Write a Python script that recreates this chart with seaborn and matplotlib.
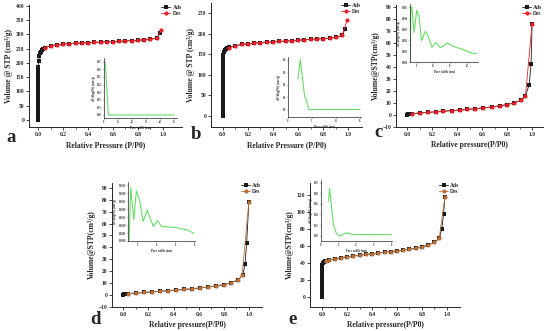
import matplotlib
matplotlib.use("Agg")
import matplotlib.pyplot as plt
import seaborn as sns

# ---------------- data ----------------
# panel a (isotherm)
A_STACK_V = [0, 8, 16, 24, 32, 40, 48, 56, 64, 72, 80, 88, 96, 104, 112, 120, 128, 136, 144, 152, 160, 168, 176, 185]
A_ADS_P = [0.0] * len(A_STACK_V) + [0.003, 0.008, 0.015, 0.022, 0.03, 0.04, 0.05,
           0.1, 0.15, 0.2, 0.25, 0.3, 0.35, 0.4, 0.45, 0.5, 0.55, 0.6, 0.65, 0.7, 0.75, 0.8, 0.85, 0.9, 0.95, 0.98]
A_ADS_V = A_STACK_V + [205, 226, 234, 240, 245, 249, 252,
           260, 264, 266, 268, 269, 270, 271, 272, 273, 274, 275, 276, 277, 278, 279, 281, 283, 286, 305]
A_DES_P = [0.05, 0.1, 0.15, 0.2, 0.25, 0.3, 0.35, 0.4, 0.45, 0.5, 0.55, 0.6, 0.65, 0.7, 0.75, 0.8, 0.85, 0.9, 0.95, 0.99]
A_DES_V = [254, 260, 264, 266, 268, 269, 270, 271, 272, 273, 274, 275, 276, 277, 278, 280, 282, 284, 286, 316]

# panel b
B_STACK_V = [0, 6, 12, 18, 24, 30, 36, 42, 48, 54, 60, 66, 72, 78, 84, 90, 96, 102, 108, 114, 120, 126, 132, 138]
B_ADS_P = [0.0] * len(B_STACK_V) + [0.003, 0.008, 0.015, 0.025, 0.035, 0.05,
           0.1, 0.15, 0.2, 0.25, 0.3, 0.35, 0.4, 0.45, 0.5, 0.55, 0.6, 0.65, 0.7, 0.75, 0.8, 0.85, 0.9, 0.95, 0.975]
B_ADS_V = B_STACK_V + [148, 155, 160, 163, 165, 167,
           171, 174, 176, 177.5, 178.5, 179.5, 180.5, 181.5, 182.5, 183.5, 184.5, 185.5, 186.5, 187.5, 188.5, 189.5, 191.5, 196, 212]
B_DES_P = [0.05, 0.1, 0.15, 0.2, 0.25, 0.3, 0.35, 0.4, 0.45, 0.5, 0.55, 0.6, 0.65, 0.7, 0.75, 0.8, 0.85, 0.9, 0.95, 0.99]
B_DES_V = [166, 171, 174, 176, 177.5, 178.5, 179.5, 180.5, 181.5, 182.5, 183.5, 184.5, 185.5, 186.5, 187.5, 188.5, 189.5, 191.5, 196, 234]

# panel c
C_ADS_P = [0.0, 0.005, 0.01, 0.02, 0.04, 0.1, 0.165, 0.23, 0.29, 0.355, 0.42, 0.48, 0.545, 0.61, 0.675, 0.74, 0.8, 0.855, 0.91, 0.945, 0.975, 0.99, 0.998]
C_ADS_V = [0.3, 0.6, 0.8, 1.0, 1.2, 1.7, 2.2, 2.7, 3.2, 3.7, 4.2, 4.7, 5.3, 6.0, 6.8, 7.7, 8.8, 10.2, 12.3, 15.8, 25.5, 43, 76.5]
C_DES_P = [0.04, 0.1, 0.165, 0.23, 0.29, 0.355, 0.42, 0.48, 0.545, 0.61, 0.675, 0.74, 0.8, 0.855, 0.91, 0.945, 0.998]
C_DES_V = [1.2, 1.7, 2.2, 2.7, 3.2, 3.7, 4.2, 4.7, 5.3, 6.0, 6.8, 7.7, 8.8, 10.2, 12.3, 15.8, 76.5]

# panel d
D_ADS_P = [0.0, 0.005, 0.01, 0.02, 0.04, 0.1, 0.165, 0.23, 0.29, 0.355, 0.42, 0.48, 0.545, 0.61, 0.675, 0.74, 0.8, 0.855, 0.915, 0.95, 0.968, 0.981, 0.998]
D_ADS_V = [0.3, 0.6, 0.8, 1.0, 1.2, 1.7, 2.2, 2.7, 3.2, 3.7, 4.2, 4.7, 5.3, 6.0, 6.8, 7.7, 8.8, 10.2, 13.0, 16.5, 26, 43.5, 78]
D_DES_P = [0.04, 0.1, 0.165, 0.23, 0.29, 0.355, 0.42, 0.48, 0.545, 0.61, 0.675, 0.74, 0.8, 0.855, 0.915, 0.945, 0.998]
D_DES_V = [1.2, 1.7, 2.2, 2.7, 3.2, 3.7, 4.2, 4.7, 5.3, 6.0, 6.8, 7.7, 8.8, 10.2, 13.0, 16.5, 78]

# panel e
E_STACK_V = [0, 2, 4, 6, 8, 10, 12, 14, 16, 18, 20, 22, 24, 26, 28, 30, 32, 34, 36, 38]
E_ADS_P = [0.0] * len(E_STACK_V) + [0.003, 0.01, 0.02, 0.035, 0.05, 0.1, 0.15, 0.2, 0.25, 0.3, 0.35, 0.4, 0.45,
           0.5, 0.55, 0.6, 0.65, 0.7, 0.75, 0.8, 0.85, 0.9, 0.94, 0.96, 0.975, 0.985]
E_ADS_V = E_STACK_V + [40, 41.5, 42.5, 43, 43.5, 45, 46.5, 47.5, 48.5, 49.5, 50.3, 51, 52,
           52.8, 53.6, 54.4, 55.3, 56.3, 57.5, 59, 61.3, 64.3, 69, 80, 97.5, 117]
E_DES_P = [0.03, 0.05, 0.1, 0.15, 0.2, 0.25, 0.3, 0.35, 0.4, 0.45, 0.5, 0.55, 0.6, 0.65, 0.7, 0.75, 0.8, 0.85, 0.9, 0.94, 0.985]
E_DES_V = [43, 43.5, 45, 46.5, 47.5, 48.5, 49.5, 50.3, 51, 52, 52.8, 53.6, 54.4, 55.3, 56.3, 57.5, 59, 61.3, 64.3, 69, 117]

# insets (pore size distribution)
IA_W = [0.7, 1.0, 3.1, 50.0]
IA_D = [0.07, 0.065, 0.0, 0.0]
IB_W = [2.07, 2.56, 3.46, 3.8, 4.35, 15.0]
IB_D = [0.246, 0.4, 0.106, 0.078, 0.0, 0.0]
IC_W = [3.08, 3.27, 3.56, 4.23, 5.0, 5.67, 6.44, 7.6, 8.37, 9.52, 10.77, 12.0, 14.13, 16.06, 18.94, 21.35, 22.8]
IC_D = [0.0, 0.005, 0.005, 0.0027, 0.0047, 0.00424, 0.00197, 0.0028, 0.0024, 0.00136, 0.0018, 0.0013, 0.00173, 0.00142, 0.00112, 0.00082, 0.00076]
ID_W = [1.11, 1.29, 1.61, 1.89, 2.25, 2.61, 3.04, 3.68, 4.11, 4.57, 6.0, 7.25, 7.96]
ID_D = [0.0, 0.00335, 0.00134, 0.00314, 0.0025, 0.00123, 0.00193, 0.00091, 0.00127, 0.00091, 0.00085, 0.0007, 0.00049]
IE_W = [0.87, 0.98, 1.25, 1.43, 1.55, 1.74, 2.0, 2.26, 2.57, 2.94, 3.7, 5.2, 8.0]
IE_D = [0.065, 0.089, 0.048, 0.0185, 0.015, 0.0053, 0.0, 0.0, 0.0033, 0.0053, 0.002, 0.002, 0.002]

# ---------------- style ----------------
sns.set_style("ticks")
plt.rcParams['font.family'] = ['Liberation Serif', 'DejaVu Serif']
plt.rcParams['font.weight'] = 'bold'
plt.rcParams['axes.labelweight'] = 'bold'

W, H = 550, 331
fig = plt.figure(figsize=(5.5, 3.31), dpi=100)
fig.patch.set_facecolor('white')

ADS_C = '#1a1a1a'
RED_C = '#e8202a'
BROWN_C = '#b8703a'
GREEN_C = '#66dd66'


def rect(l, t, r, b):
    return [l / W, 1 - b / H, (r - l) / W, (b - t) / H]


def main_panel(box, ap, av, dp, dv, dcol, xlim, ylim, yticks, xlabel, ylabel, letter, lpos):
    ax = fig.add_axes(rect(*box))
    sns.lineplot(x=ap, y=av, ax=ax, color=ADS_C, marker='s', markersize=2.8, linewidth=0.6,
                 markeredgewidth=0, estimator=None, sort=False, label='Ads')
    sns.lineplot(x=dp, y=dv, ax=ax, color=dcol, marker='o', markersize=3.0, linewidth=0.6,
                 markeredgewidth=0, estimator=None, sort=False, label='Des')
    ax.set_xlim(*xlim)
    ax.set_ylim(*ylim)
    ax.set_xticks([0.0, 0.2, 0.4, 0.6, 0.8, 1.0])
    ax.set_xticks([0.1, 0.3, 0.5, 0.7, 0.9], minor=True)
    ax.set_xticklabels(['0.0', '0.2', '0.4', '0.6', '0.8', '1.0'])
    ax.set_yticks(yticks)
    ax.tick_params(labelsize=4, length=2, width=0.6, pad=1.5)
    ax.tick_params(which='minor', length=1.2, width=0.5)
    for s in ['top', 'right']:
        ax.spines[s].set_visible(False)
    for s in ['left', 'bottom']:
        ax.spines[s].set_linewidth(0.7)
    ax.set_xlabel(xlabel, fontsize=5.5, labelpad=3)
    ax.set_ylabel(ylabel, fontsize=5.5, labelpad=2)
    ax.legend(loc='upper right', bbox_to_anchor=(1.02, 1.03), fontsize=4, frameon=False,
              handlelength=1.6, handletextpad=0.4, labelspacing=0.3, borderaxespad=0.2)
    fig.text(lpos[0] / W, 1 - lpos[1] / H, letter, fontsize=13.5, fontweight='bold',
             ha='left', va='baseline')
    return ax


def inset(box, w, d, xlim, ylim, xticks, yticks):
    ax = fig.add_axes(rect(*box))
    sns.lineplot(x=w, y=d, ax=ax, color=GREEN_C, linewidth=0.8, estimator=None, sort=False)
    ax.set_xlim(*xlim)
    ax.set_ylim(*ylim)
    ax.set_xticks(xticks)
    ax.set_yticks(yticks)
    ax.set_facecolor('none')
    ax.tick_params(labelsize=1.8, length=1, width=0.4, pad=0.5)
    for s in ['top', 'right']:
        ax.spines[s].set_visible(False)
    for s in ['left', 'bottom']:
        ax.spines[s].set_linewidth(0.5)
    ax.set_xlabel('Pore width (nm)', fontsize=2.2, labelpad=0.8)
    ax.set_ylabel('dV/dlog(W) (cm³/g)', fontsize=2.2, labelpad=0.8)
    return ax


lab1x = 'Relative Pressure (P/P0)'
lab1y = 'Volume @ STP (cm³/g)'
lab2x = 'Relative pressure(P/P0)'
lab2y = 'Volume@STP(cm³/g)'

main_panel((29, 5, 182, 127), A_ADS_P, A_ADS_V, A_DES_P, A_DES_V, RED_C,
           (-0.075, 1.155), (-24.6, 403), list(range(0, 401, 50)), lab1x, lab1y, 'a', (6, 142))
main_panel((211, 3, 362, 127), B_ADS_P, B_ADS_V, B_DES_P, B_DES_V, RED_C,
           (-0.093, 1.108), (-26.8, 275), list(range(0, 251, 50)), lab1x, lab1y, 'b', (191, 139))
main_panel((396, 5, 543, 127), C_ADS_P, C_ADS_V, C_DES_P, C_DES_V, RED_C,
           (-0.088, 1.085), (-10, 92), list(range(-10, 91, 10)), lab2x, lab2y, 'c', (374, 137))
main_panel((112, 183, 262, 307), D_ADS_P, D_ADS_V, D_DES_P, D_DES_V, BROWN_C,
           (-0.09, 1.103), (-10, 94), list(range(-10, 91, 10)), lab2x, lab2y, 'd', (90, 324))
main_panel((310, 183, 460, 307), E_ADS_P, E_ADS_V, E_DES_P, E_DES_V, BROWN_C,
           (-0.099, 1.107), (-11.4, 134), list(range(0, 121, 20)), lab2x, lab2y, 'e', (288, 324))

inset((104, 58, 177, 118), IA_W, IA_D, (0, 52), (-0.004, 0.075),
      [0, 10, 20, 30, 40, 50], [0.0, 0.01, 0.02, 0.03, 0.04, 0.05, 0.06, 0.07])
inset((288, 57, 361, 117), IB_W, IB_D, (0, 15.2), (-0.06, 0.42),
      [0, 5, 10, 15], [0.0, 0.1, 0.2, 0.3, 0.4])
inset((410, 4, 478, 62), IC_W, IC_D, (3.0, 23.3), (0, 0.0053),
      [5, 10, 15, 20], [0.0, 0.001, 0.002, 0.003, 0.004, 0.005])
inset((128, 182, 195, 241), ID_W, ID_D, (1.0, 8.1), (0, 0.0037),
      [2, 4, 6, 8], [0.0, 0.0005, 0.001, 0.0015, 0.002, 0.0025, 0.003, 0.0035])
inset((321, 180, 392, 241), IE_W, IE_D, (0, 8.1), (-0.01, 0.105),
      [0, 2, 4, 6, 8], [0.0, 0.02, 0.04, 0.06, 0.08, 0.1])

fig.savefig('out.png', dpi=100)
